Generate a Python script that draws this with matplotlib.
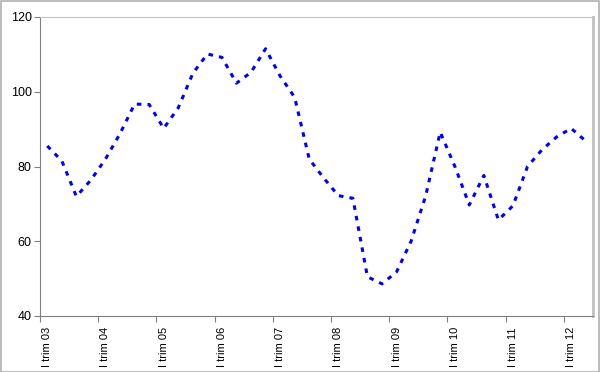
import numpy as np
import matplotlib
matplotlib.use('Agg')
import matplotlib.pyplot as plt

# quarterly index, I trim 03 .. II trim 12
years = ['03', '04', '05', '06', '07', '08', '09', '10', '11', '12']
values = [85.5, 81.5, 72.0, 76.4,
          82.0, 88.8, 96.7, 96.6,
          90.2, 95.7, 104.9, 110.1,
          109.2, 102.3, 105.2, 111.5,
          104.2, 98.5, 82.0, 76.9,
          72.2, 71.5, 50.5, 48.6,
          51.8, 60.0, 72.1, 89.2,
          80.1, 69.7, 77.6, 65.7,
          69.5, 80.0, 84.5, 87.9,
          90.2, 86.8]
tick_labels = ['I trim ' + y for y in years]

plt.rcParams['font.family'] = ['Liberation Sans', 'DejaVu Sans']

fig = plt.figure(figsize=(6, 3.72), dpi=100)
ax = fig.add_axes([40 / 600, 1 - 316 / 372, 553 / 600, 299 / 372])

x = np.arange(len(values))
ax.plot(x, values, color='#0000FF', lw=2.2, linestyle=(0, (1.5, 2.0)))

ax.set_xlim(-0.5, len(values) - 0.5)
ax.set_ylim(40, 120)
ax.set_yticks([40, 60, 80, 100, 120])

# tick marks on category boundaries, labels on category centers
ax.set_xticks(np.arange(0, len(values), 4) - 0.5)
ax.set_xticklabels([])
ax.set_xticks(np.arange(0, len(values), 4), minor=True)
ax.set_xticklabels(tick_labels, minor=True, rotation=90, fontsize=8)
ax.tick_params(axis='x', which='minor', length=0, pad=8)
ax.tick_params(axis='x', which='major', length=4, color='#808080')
ax.tick_params(axis='y', length=4, color='#808080', labelsize=9, pad=2)

for s in ['left', 'bottom']:
    ax.spines[s].set_color('#808080')
for s in ['top', 'right']:
    ax.spines[s].set_color('#C0C0C0')
ax.spines['right'].set_linewidth(2)

fig.patches.append(plt.Rectangle((0.001, 0.001), 0.997, 0.996, transform=fig.transFigure,
                                 fill=False, edgecolor='#B0B0B0', lw=1.2))

plt.savefig('out.png', dpi=100)
